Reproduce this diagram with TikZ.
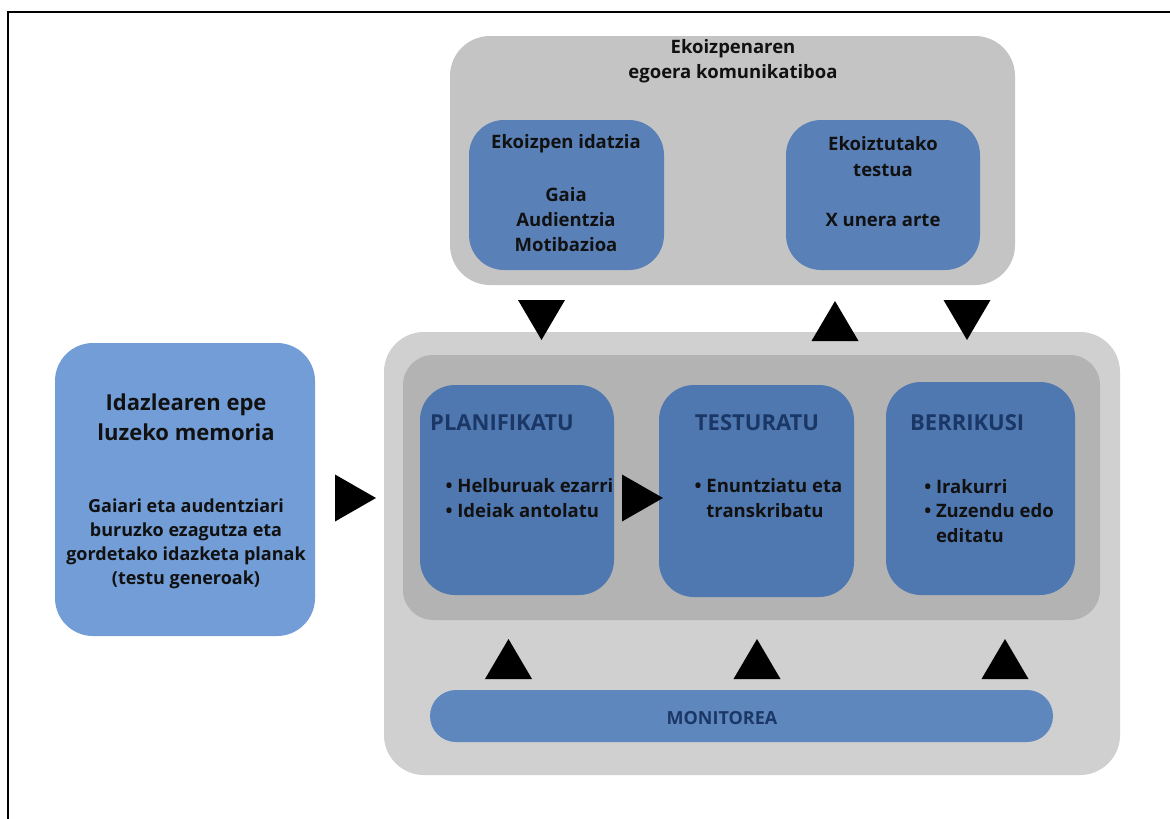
\documentclass[tikz,border=0pt]{standalone}
\usepackage{fontspec}
\setmainfont{Open Sans}
\definecolor{topgray}{HTML}{C4C4C4}
\definecolor{lightgray}{HTML}{D0D0D0}
\definecolor{midgray}{HTML}{B3B3B3}
\definecolor{stepblue}{HTML}{4F77B0}
\definecolor{ctxblue}{HTML}{5A80B8}
\definecolor{memblue}{HTML}{729DD6}
\definecolor{monblue}{HTML}{5E87BE}
\definecolor{navy}{HTML}{1B3766}
\definecolor{ink}{HTML}{111111}
\begin{document}
\begin{tikzpicture}[x=1pt,y=-1pt,
  panel/.style={rectangle, inner sep=0pt, draw=none, rounded corners=#1},
  panel/.default=35,
  txt/.style={inner sep=0pt, align=center, text=ink, font=\bfseries\fontsize{18.5}{24.5}\selectfont},
  steptitle/.style={inner sep=0pt, text=navy, font=\bfseries\fontsize{22}{26}\selectfont},
  tridown/.pic={\fill[black] (-23.5,-20) -- (23.5,-20) -- (0,20) -- cycle;},
  triup/.pic={\fill[black] (-23.5,20) -- (23.5,20) -- (0,-20) -- cycle;},
  triright/.pic={\fill[black] (-20,-23.5) -- (-20,23.5) -- (21,0) -- cycle;}
]
\useasboundingbox (0,0) rectangle (1170,819);
\fill[white] (0,0) rectangle (1170,819);
% frame lines
\draw[line width=1.7pt] (8.3,819) -- (8.3,11.8) -- (1170,11.8);

% communicative situation
\node[panel=40, fill=topgray, minimum width=565, minimum height=249] (ctx) at (732.5,160.5) {};
\node[txt, font=\bfseries\fontsize{18.5}{25}\selectfont] (ctxtitle) at (733,61) {Ekoizpenaren\\egoera komunikatiboa};
\node[panel=35, fill=ctxblue, minimum width=195, minimum height=150] (task) at (566.5,195) {};
\node[txt] (tasktitle) at (566,144) {Ekoizpen idatzia};
\node[txt, font=\bfseries\fontsize{18.5}{25}\selectfont] (taskbody) at (566,220) {Gaia\\Audientzia\\Motibazioa};
\node[panel=35, fill=ctxblue, minimum width=194, minimum height=150] (prod) at (883,195) {};
\node[txt, font=\bfseries\fontsize{18.5}{26}\selectfont] (prodtitle) at (883,157) {Ekoiztutako\\testua};
\node[txt] (prodbody) at (883,220) {X unera arte};

% long-term memory
\node[panel=38, fill=memblue, minimum width=260, minimum height=293] (mem) at (185,489.5) {};
\node[txt, font=\bfseries\fontsize{22}{30}\selectfont] (memtitle) at (186,417) {Idazlearen epe\\luzeko memoria};
\node[txt, font=\bfseries\fontsize{18}{24}\selectfont] (membody) at (186,544) {Gaiari eta audentziari\\buruzko ezagutza eta\\gordetako idazketa planak\\(testu generoak)};

% writing process
\node[panel=40, fill=lightgray, minimum width=736, minimum height=443] (proc) at (752,553.5) {};
\node[panel=30, fill=midgray, minimum width=697, minimum height=265] (core) at (751.5,487.5) {};
\node[panel=35, fill=stepblue, minimum width=194, minimum height=210] (plan) at (517,490) {};
\node[panel=35, fill=stepblue, minimum width=195, minimum height=212] (text) at (756.5,491) {};
\node[panel=35, fill=stepblue, minimum width=189, minimum height=213] (rev) at (980.5,488.5) {};
\node[steptitle, anchor=west] (plantitle) at (430,423) {PLANIFIKATU};
\node[steptitle] (texttitle) at (757,423) {TESTURATU};
\node[steptitle, anchor=west] (revtitle) at (910,423) {BERRIKUSI};
\node[txt, align=left] (planbody) at (529.5,498) {• Helburuak ezarri\\• Ideiak antolatu};
\node[txt, align=left] (textbody) at (768.5,498) {• Enuntziatu eta\\\phantom{•} transkribatu};
\node[txt, align=left] (revbody) at (989,511) {• Irakurri\\• Zuzendu edo\\\phantom{•} editatu};

% monitor
\node[panel=26, fill=monblue, minimum width=623, minimum height=52] (mon) at (741.5,716) {};
\node[steptitle, font=\bfseries\fontsize{18}{20}\selectfont] (montitle) at (722,718) {MONITOREA};

% flow markers
\pic at (541.5,320) {tridown};
\pic at (835,321) {triup};
\pic at (967,320) {tridown};
\pic at (355,498) {triright};
\pic at (642,498) {triright};
\pic at (508.5,659) {triup};
\pic at (757,659) {triup};
\pic at (1005,659) {triup};
\end{tikzpicture}
\end{document}
